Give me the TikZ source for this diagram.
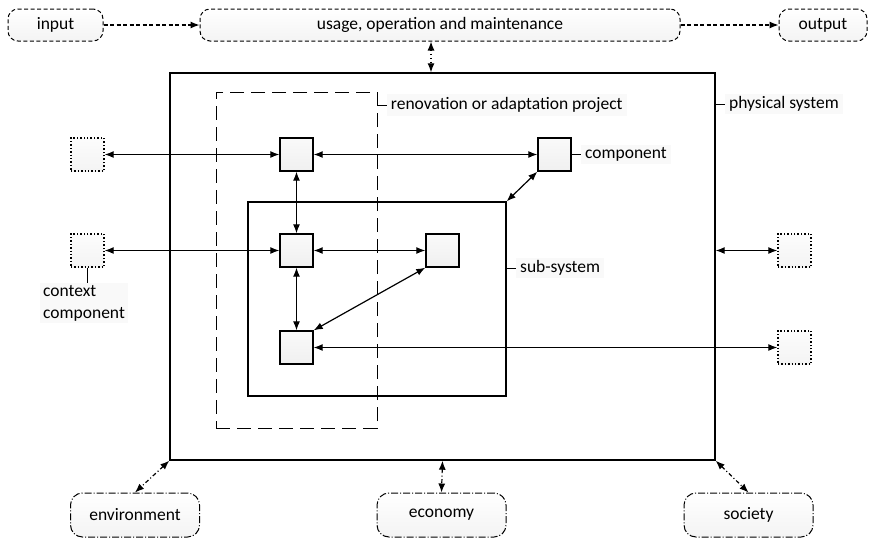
\documentclass[tikz,border=0pt]{standalone}
\usepackage{fontspec}
\setmainfont{Carlito}
\usetikzlibrary{arrows.meta}
\begin{document}
\begin{tikzpicture}[x=1pt,y=-1pt,
  font=\fontsize{17.5}{20.5}\selectfont,
  tip/.tip={Latex[length=9pt,width=7pt]},
  flowbox/.style={draw, line width=1pt, rounded corners=10pt,
    dash pattern=on 4pt off 2.5pt, top color=white, bottom color=gray!9,
    minimum height=32pt, inner sep=0pt},
  ctxbox/.style={draw, line width=1pt, rounded corners=12pt,
    dash pattern=on 7pt off 2pt on 1pt off 2pt, top color=white, bottom color=gray!9,
    minimum height=44pt, minimum width=129pt, inner sep=0pt},
  comp/.style={draw, line width=1.4pt, minimum size=33pt, inner sep=0pt,
    top color=gray!4, bottom color=gray!12},
  ctxcomp/.style={draw, line width=1.4pt, dotted, minimum size=33pt, inner sep=0pt,
    top color=gray!2, bottom color=gray!9},
  frame/.style={draw, line width=1.4pt, inner sep=0pt},
  link/.style={tip-tip, line width=1.2pt},
  flow/.style={-tip, line width=1.2pt, dash pattern=on 4pt off 2.5pt},
  dotlink/.style={tip-tip, line width=1.2pt, dash pattern=on 1.5pt off 2.5pt},
  dashdotlink/.style={tip-tip, line width=1.2pt, dash pattern=on 4pt off 2.5pt on 1pt off 2.5pt},
  tag/.style={fill=gray!5, anchor=west, inner xsep=4pt, inner ysep=3pt},
  leader/.style={line width=0.9pt}]
\useasboundingbox (0,0) rectangle (872,539);

% top row: flow of the system's use
\node[flowbox, minimum width=95pt] (input) at (55.5,25) {input};
\node[flowbox, minimum width=480pt] (usage) at (440,25) {usage, operation and maintenance};
\node[flowbox, minimum width=88pt] (output) at (823,25) {output};
\draw[flow] (input) -- (usage);
\draw[flow] (usage) -- (output);

% nested system boundaries
\node[frame, minimum width=545pt, minimum height=387pt] (phys) at (442.5,266.5) {};
\node[frame, minimum width=258pt, minimum height=194pt] (sub) at (377,299) {};
\node[draw, line width=1pt, dash pattern=on 14pt off 7pt, inner sep=0pt,
  minimum width=161pt, minimum height=336pt] (reno) at (296.5,260) {};

\draw[dotlink] ([xshift=-9pt]usage.south) -- ([xshift=-9pt]usage.south |- phys.north);

% components
\node[comp] (cA) at (296.5,154.5) {};
\node[comp] (cB) at (554.5,154.5) {};
\node[comp] (cC) at (296.5,250.5) {};
\node[comp] (cD) at (442.5,250.5) {};
\node[comp] (cE) at (296.5,347.5) {};

% context components
\node[ctxcomp] (xL1) at (87.5,154.5) {};
\node[ctxcomp] (xL2) at (87.5,250.5) {};
\node[ctxcomp] (xR1) at (794.5,250.5) {};
\node[ctxcomp] (xR2) at (794.5,347.5) {};

% relations
\draw[link] (xL1) -- (cA);
\draw[link] (cA) -- (cB);
\draw[link] (cA) -- (cC);
\draw[link] (xL2) -- (cC);
\draw[link] (cC) -- (cD);
\draw[link] (cC) -- (cE);
\draw[link] (cD.south west) -- (cE.north east);
\draw[link] (cB.south west) -- (sub.north east);
\draw[link] (xR1.west -| phys.east) -- (xR1);
\draw[link] (cE) -- (xR2);

% labels with leaders
\draw[leader] (reno.east |- 0,105) -- ++(9,0) node[tag] {renovation or adaptation project};
\draw[leader] (phys.east |- 0,104) -- ++(9,0) node[tag] {physical system};
\draw[leader] (cB.east) -- ++(9,0) node[tag] {component};
\draw[leader] (sub.east |- 0,268) -- ++(9,0) node[tag] {sub-system};
\node[fill=gray!5, anchor=north west, align=left, inner xsep=3pt, inner ysep=2pt,
  font=\fontsize{17.5}{22}\selectfont] (ctxlab) at (40,283) {context\\component};
\draw[leader] (xL2.south) -- (xL2.south |- ctxlab.north);

% surrounding context
\node[ctxbox] (env) at (135,515) {environment};
\node[ctxbox] (econ) at (441.5,515) {economy};
\node[ctxbox] (soc) at (748.5,515) {society};
\draw[dashdotlink] (phys.south west) -- (env.north);
\draw[dashdotlink] (phys.south) -- (econ.north);
\draw[dashdotlink] (phys.south east) -- (soc.north);
\end{tikzpicture}
\end{document}
